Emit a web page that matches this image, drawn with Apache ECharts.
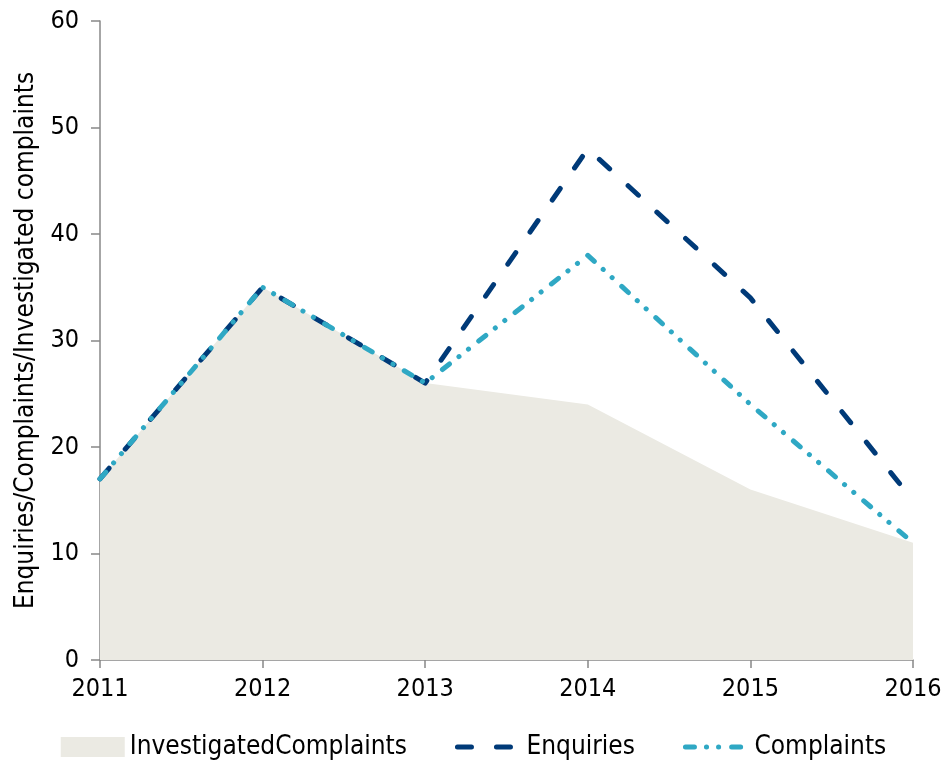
<!DOCTYPE html>
<html>
<head>
<meta charset="utf-8">
<script src="https://cdn.jsdelivr.net/npm/echarts@6/dist/echarts.min.js"></script>
<style>
html,body{margin:0;padding:0;background:#fff;}
#chart{width:947px;height:769px;}
</style>
</head>
<body>
<div id="chart"></div>
<script>
var years = ['2011','2012','2013','2014','2015','2016'];
var investigated = [17, 35, 26, 24, 16, 11];
var enquiries = [17, 35, 26, 48, 34, 15];
var complaints = [17, 35, 26, 38, 24, 11];
var yTitle = 'Enquiries/Complaints/Investigated complaints';

var FONT = '"DejaVu Sans Condensed", "DejaVu Sans", sans-serif';
var chart = echarts.init(document.getElementById('chart'));
chart.setOption({
  animation: false,
  textStyle: {fontFamily: FONT},
  grid: {left: 100, right: 34, top: 21, bottom: 109, containLabel: false},
  legend: {
    bottom: 4,
    left: 'center',
    itemWidth: 64,
    itemHeight: 20,
    itemGap: 48,
    lineStyle: {width: 5},
    textStyle: {fontFamily: FONT, fontSize: 26, color: '#000'},
    data: [
      {name: 'InvestigatedComplaints', icon: 'rect'},
      {name: 'Enquiries', itemStyle: {opacity: 0}},
      {name: 'Complaints', itemStyle: {opacity: 0}}
    ]
  },
  xAxis: {
    type: 'category',
    data: years,
    boundaryGap: false,
    axisLine: {lineStyle: {color: '#888', width: 1.5}},
    axisTick: {show: true, length: 8, lineStyle: {color: '#888', width: 1.5}},
    axisLabel: {color: '#000', fontSize: 25, fontFamily: FONT, margin: 17},
    splitLine: {show: false}
  },
  yAxis: {
    type: 'value',
    min: 0, max: 60, interval: 10,
    name: yTitle,
    nameLocation: 'middle',
    nameGap: 58,
    nameTextStyle: {color: '#000', fontSize: 26, fontFamily: FONT},
    axisLine: {show: true, lineStyle: {color: '#888', width: 1.5}},
    axisTick: {show: true, length: 9, lineStyle: {color: '#888', width: 1.5}},
    axisLabel: {color: '#000', fontSize: 25, fontFamily: FONT, margin: 21},
    splitLine: {show: false}
  },
  series: [
    {
      name: 'InvestigatedComplaints',
      type: 'line',
      data: investigated,
      symbol: 'none',
      lineStyle: {width: 0, color: '#ebeae3'},
      itemStyle: {color: '#ebeae3'},
      areaStyle: {color: '#ebeae3', opacity: 1},
      z: 1
    },
    {
      name: 'Enquiries',
      type: 'line',
      data: enquiries,
      symbol: 'none',
      itemStyle: {color: '#003a78'},
      lineStyle: {color: '#003a78', width: 5, type: [14, 25], cap: 'round', join: 'round'},
      z: 2
    },
    {
      name: 'Complaints',
      type: 'line',
      data: complaints,
      symbol: 'none',
      itemStyle: {color: '#2fa8c4'},
      lineStyle: {color: '#2fa8c4', width: 5, type: [9, 12, 0.1, 12, 0.1, 13], cap: 'round', join: 'round'},
      z: 3
    }
  ]
});
</script>
</body>
</html>
